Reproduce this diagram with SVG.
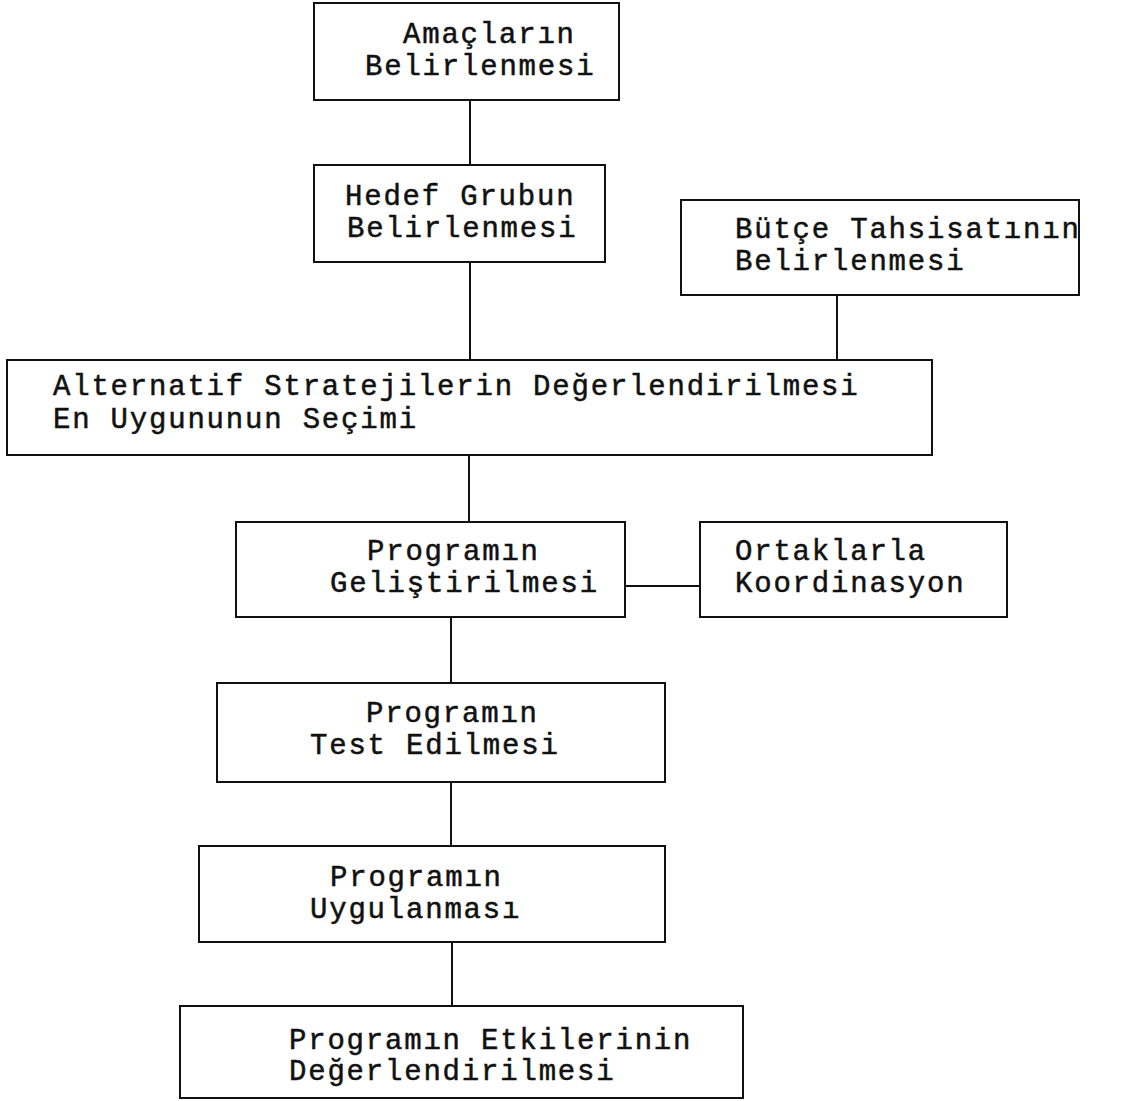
<svg xmlns="http://www.w3.org/2000/svg" width="1135" height="1101" viewBox="0 0 1135 1101">
<style>
.box{fill:#fff;stroke:#111;stroke-width:2}
.t{font-family:"Liberation Mono","Courier New",monospace;font-size:29px;letter-spacing:1.8px;fill:#111;stroke:#111;stroke-width:0.5}
.c{stroke:#111;stroke-width:2;fill:none}
</style>
<rect width="1135" height="1101" fill="#fff"/>
<g id="connectors">
<line class="c" x1="470" y1="100" x2="470" y2="165"/>
<line class="c" x1="470" y1="262" x2="470" y2="360"/>
<line class="c" x1="837" y1="295" x2="837" y2="360"/>
<line class="c" x1="469" y1="455" x2="469" y2="522"/>
<line class="c" x1="625" y1="586" x2="700" y2="586"/>
<line class="c" x1="451" y1="617" x2="451" y2="683"/>
<line class="c" x1="451" y1="782" x2="451" y2="846"/>
<line class="c" x1="452" y1="942" x2="452" y2="1006"/>
</g>
<g id="n1"><rect class="box" x="314" y="3" width="305" height="97"/>
<text class="t" x="403" y="43">Amaçların</text><text class="t" x="365" y="75">Belirlenmesi</text></g>
<g id="n2"><rect class="box" x="314" y="165" width="291" height="97"/>
<text class="t" x="345" y="205">Hedef Grubun</text><text class="t" x="347" y="237">Belirlenmesi</text></g>
<g id="n3"><rect class="box" x="681" y="200" width="398" height="95"/>
<text class="t" x="735" y="238">Bütçe Tahsisatının</text><text class="t" x="735" y="270">Belirlenmesi</text></g>
<g id="n4"><rect class="box" x="7" y="360" width="925" height="95"/>
<text class="t" x="53" y="395">Alternatif Stratejilerin Değerlendirilmesi</text><text class="t" x="53" y="428">En Uygununun Seçimi</text></g>
<g id="n5"><rect class="box" x="236" y="522" width="389" height="95"/>
<text class="t" x="367" y="560">Programın</text><text class="t" x="330" y="592">Geliştirilmesi</text></g>
<g id="n6"><rect class="box" x="700" y="522" width="307" height="95"/>
<text class="t" x="735" y="560">Ortaklarla</text><text class="t" x="735" y="592">Koordinasyon</text></g>
<g id="n7"><rect class="box" x="217" y="683" width="448" height="99"/>
<text class="t" x="366" y="722">Programın</text><text class="t" x="310" y="754">Test Edilmesi</text></g>
<g id="n8"><rect class="box" x="199" y="846" width="466" height="96"/>
<text class="t" x="330" y="886">Programın</text><text class="t" x="310" y="918">Uygulanması</text></g>
<g id="n9"><rect class="box" x="180" y="1006" width="563" height="92"/>
<text class="t" x="289" y="1049">Programın Etkilerinin</text><text class="t" x="289" y="1080">Değerlendirilmesi</text></g>
</svg>
